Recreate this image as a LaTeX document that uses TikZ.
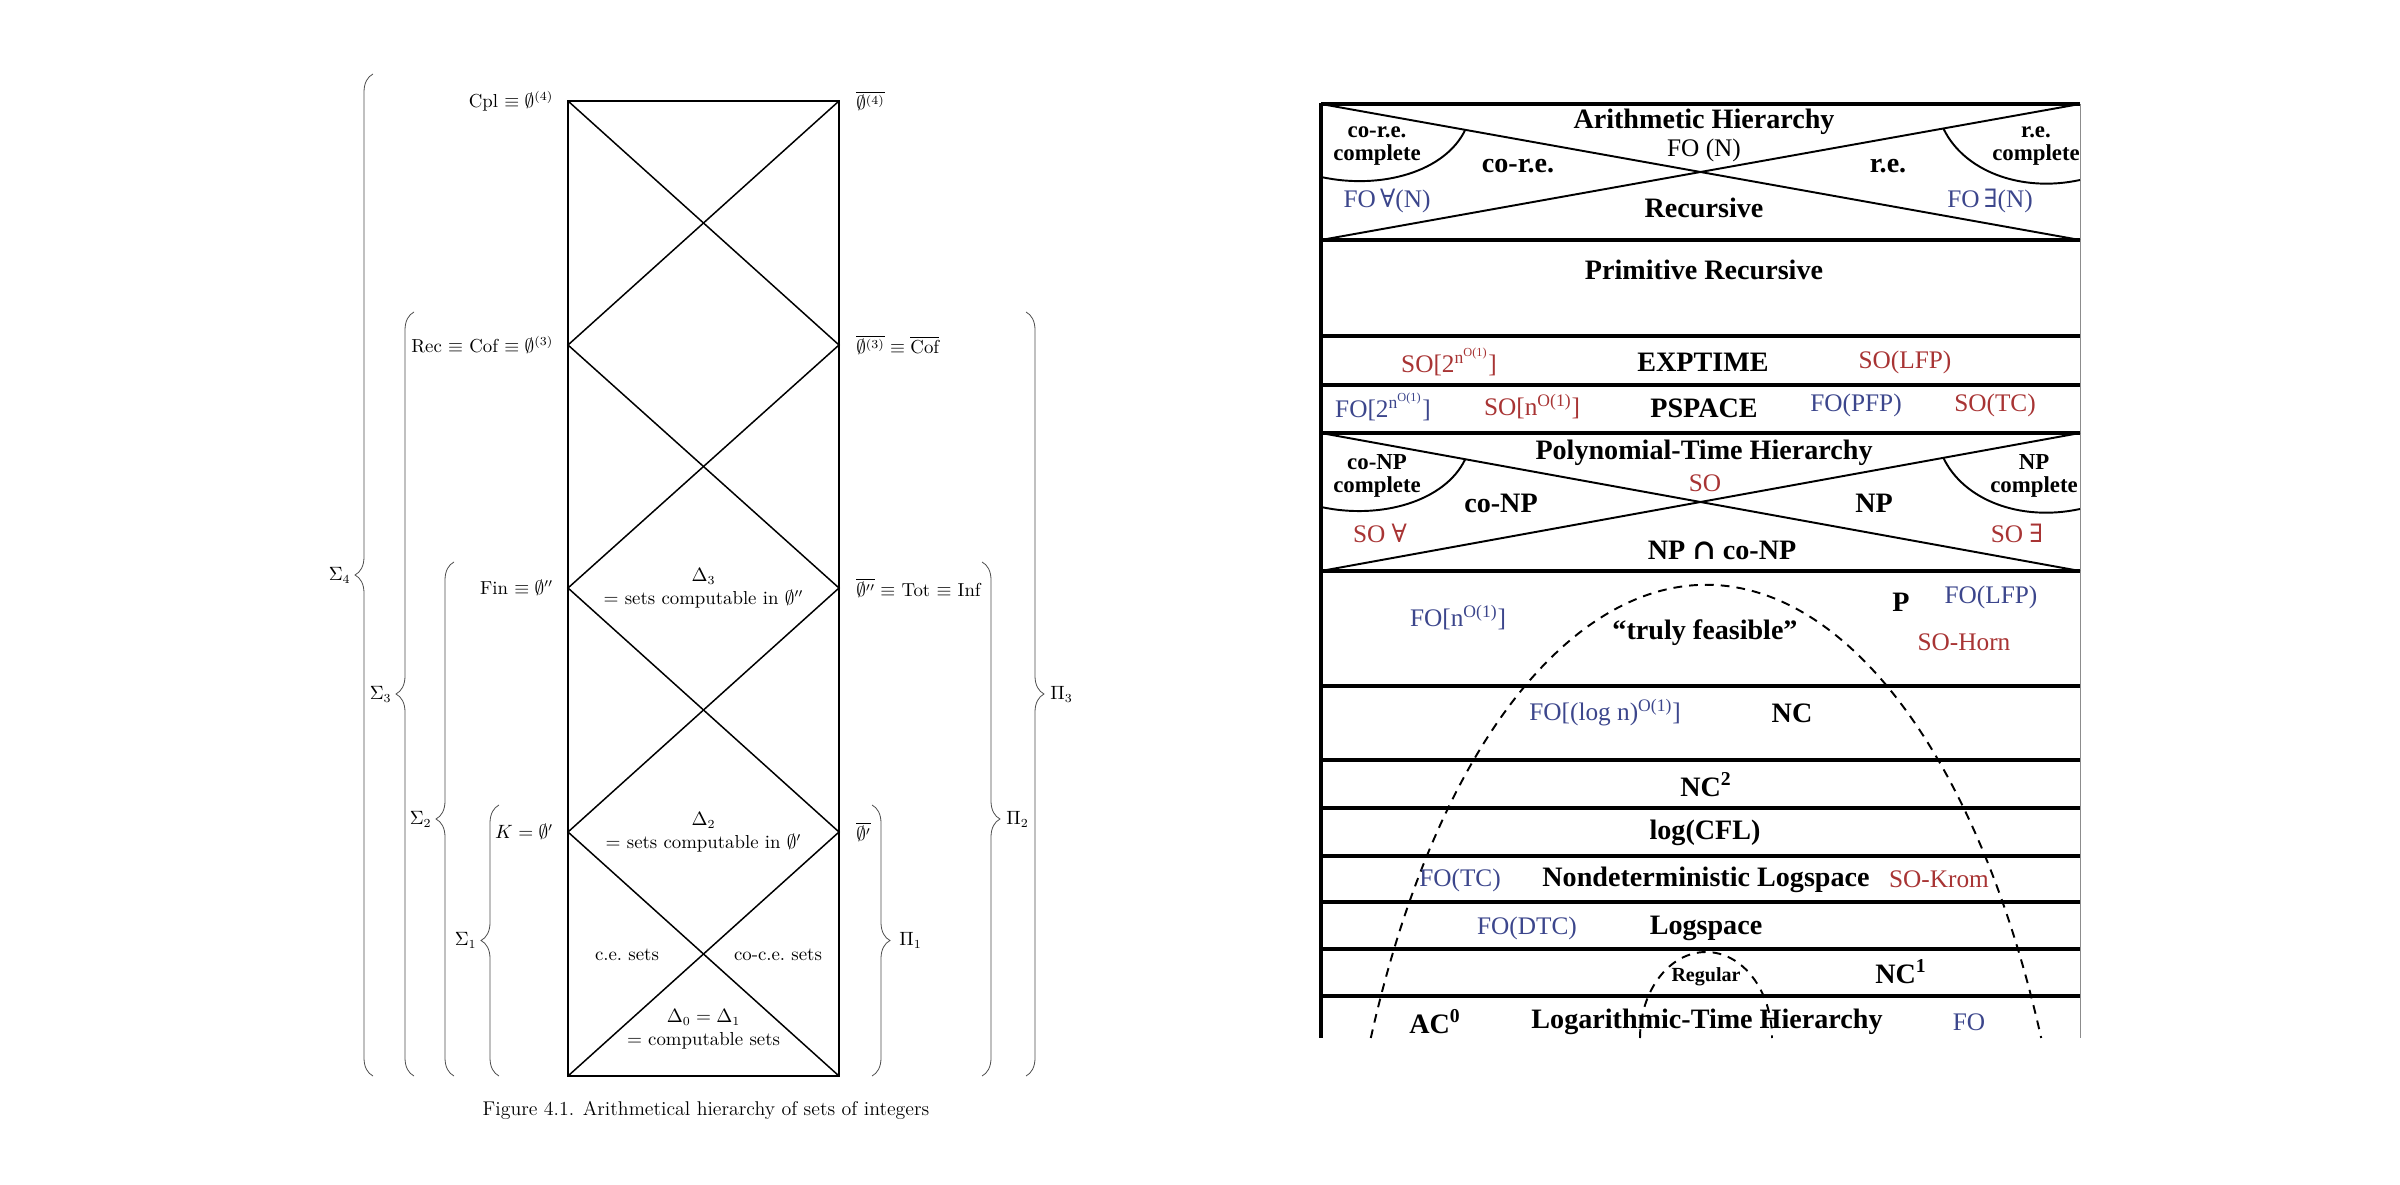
\documentclass[tikz,border=0pt]{standalone}
\usepackage{amsmath, amssymb}
\usepackage{fontspec}
\usepackage{xcolor}
\usepackage{tikz}
\usetikzlibrary{positioning, calc, decorations.pathreplacing}

\newfontfamily\timesfont{Liberation Serif}
\newfontfamily\quantfont{DejaVu Serif}
\definecolor{foblue}{RGB}{60,70,140}
\definecolor{sored}{RGB}{168,52,52}

\begin{document}
\begin{tikzpicture}[
    x=0.02cm,
    y=-0.02cm,
    lab/.style={
        inner sep=0pt,
        font=\fontsize{10.7}{13}\selectfont
    },
    cell/.style={
        inner sep=0pt,
        align=center,
        font=\fontsize{10.7}{13}\selectfont
    },
    lbrace/.style={
        decorate,
        decoration={brace, amplitude=0.36cm},
        draw=black!70,
        line width=0.45pt
    },
    zig/.style={line width=0.85pt},
    tname/.style={
        inner sep=0pt,
        align=center,
        font=\timesfont\bfseries\fontsize{16}{18}\selectfont
    },
    tsmall/.style={
        inner sep=0pt,
        align=center,
        font=\timesfont\bfseries\fontsize{13}{13}\selectfont
    },
    logic/.style={
        inner sep=0pt,
        font=\timesfont\fontsize{14.4}{16}\selectfont
    },
    fo/.style={logic, text=foblue},
    so/.style={logic, text=sored},
    rule/.style={line width=1.8pt},
    cross/.style={line width=1.1pt},
    feas/.style={line width=1.1pt, dash pattern=on 5pt off 4pt}
]
\useasboundingbox (0,0) rectangle (2400,1185);

% ============================================================
%  left: arithmetical hierarchy
% ============================================================

% --- corners of the diamonds ---
\coordinate (l0) at (568,101);
\coordinate (r0) at (839,101);
\coordinate (l1) at (568,345);
\coordinate (r1) at (839,345);
\coordinate (l2) at (568,588);
\coordinate (r2) at (839,588);
\coordinate (l3) at (568,832);
\coordinate (r3) at (839,832);
\coordinate (l4) at (568,1076);
\coordinate (r4) at (839,1076);

\draw[zig] (l0) rectangle (r4);
\draw[zig] (l0) -- (r1) -- (l2) -- (r3) -- (l4);
\draw[zig] (r0) -- (l1) -- (r2) -- (l3) -- (r4);

% --- left column ---
\node[lab, left=0.29cm of l0] (cpl) {Cpl $\equiv \emptyset^{(4)}$};
\node[lab, left=0.29cm of l1] (rec) {Rec $\equiv$ Cof $\equiv \emptyset^{(3)}$};
\node[lab, left=0.29cm of l2] (fin) {Fin $\equiv \emptyset''$};
\node[lab, left=0.29cm of l3] (kset) {$K = \emptyset'$};

% --- right column ---
\node[lab, right=0.34cm of r0] (jump4) {$\overline{\emptyset^{(4)}}$};
\node[lab, right=0.34cm of r1] (jump3) {$\overline{\emptyset^{(3)}} \equiv \overline{\mathrm{Cof}}$};
\node[lab, right=0.34cm of r2] (tot) {$\overline{\emptyset''} \equiv$ Tot $\equiv$ Inf};
\node[lab, right=0.34cm of r3] (jump1) {$\overline{\emptyset'}$};

% --- inside the diamonds ---
\node[cell] (delta3) at (703.5,588) {$\Delta_3$\\$=$ sets computable in $\emptyset''$};
\node[cell] (delta2) at (703.5,832) {$\Delta_2$\\$=$ sets computable in $\emptyset'$};
\node[cell] (ce)     at (627,955) {c.e.\ sets};
\node[cell] (coce)   at (778,955) {co-c.e.\ sets};
\node[cell] (delta0) at (703.5,1029) {$\Delta_0 = \Delta_1$\\$=$ computable sets};

% --- braces ---
\draw[lbrace] (373,1076) -- (373,74)  node[midway, left=0.44cm, lab] (sig4) {$\Sigma_4$};
\draw[lbrace] (414,1076) -- (414,312) node[midway, left=0.44cm, lab] (sig3) {$\Sigma_3$};
\draw[lbrace] (454,1076) -- (454,562) node[midway, left=0.44cm, lab] (sig2) {$\Sigma_2$};
\draw[lbrace] (499,1076) -- (499,805) node[midway, left=0.44cm, lab] (sig1) {$\Sigma_1$};
\draw[lbrace] (872,805) -- (872,1076)  node[midway, right=0.54cm, lab] (pi1) {$\Pi_1$};
\draw[lbrace] (982,562) -- (982,1076)  node[midway, right=0.48cm, lab] (pi2) {$\Pi_2$};
\draw[lbrace] (1026,312) -- (1026,1076) node[midway, right=0.48cm, lab] (pi3) {$\Pi_3$};

\node[lab, font=\fontsize{11.3}{13}\selectfont] (caption) at (706,1110) {Figure 4.1. Arithmetical hierarchy of sets of integers};

% ============================================================
%  right: the descriptive complexity world
% ============================================================

% --- frame and rows ---
\draw[line width=2pt] (1321,103) -- (1321,1038);
\draw[line width=0.5pt, draw=black!45] (2080,104) -- (2080,1038);
\draw[rule] (1321,104) -- (2080,104);
\draw[rule] (1321,240) -- (2080,240);
\draw[rule] (1321,336) -- (2080,336);
\draw[rule] (1321,385) -- (2080,385);
\draw[rule] (1321,433) -- (2080,433);
\draw[rule] (1321,571) -- (2080,571);
\draw[rule] (1321,686) -- (2080,686);
\draw[rule] (1321,760) -- (2080,760);
\draw[rule] (1321,808) -- (2080,808);
\draw[rule] (1321,856) -- (2080,856);
\draw[rule] (1321,902) -- (2080,902);
\draw[rule] (1321,949) -- (2080,949);
\draw[rule] (1321,996) -- (2080,996);

% --- arithmetic hierarchy cross ---
\coordinate (a-tl) at (1321,104);
\coordinate (a-tr) at (2080,104);
\coordinate (a-bl) at (1321,240);
\coordinate (a-br) at (2080,240);
\draw[cross] (a-tl) -- (a-br);
\draw[cross] (a-bl) -- (a-tr);
\draw[cross] ($(a-tl)!0.19!(a-br)$) .. controls +(-20,42) and +(60,13) .. (1321,177);
\draw[cross] ($(a-tr)!0.18!(a-bl)$) .. controls +(20,42) and +(-60,13) .. (2080,180);

% --- polynomial-time hierarchy cross ---
\coordinate (p-tl) at (1321,433);
\coordinate (p-tr) at (2080,433);
\coordinate (p-bl) at (1321,571);
\coordinate (p-br) at (2080,571);
\draw[cross] (p-tl) -- (p-br);
\draw[cross] (p-bl) -- (p-tr);
\draw[cross] ($(p-tl)!0.19!(p-br)$) .. controls +(-20,42) and +(60,13) .. (1321,507);
\draw[cross] ($(p-tr)!0.18!(p-bl)$) .. controls +(20,42) and +(-60,13) .. (2080,509);

% --- dashed arcs ---
\draw[feas] (1370.8,1038) arc[start angle=-154.3, end angle=-25.7, x radius=372, y radius=800];
\draw[feas] (1640,1038) arc[start angle=-180, end angle=0, x radius=66, y radius=86];

% --- arithmetic hierarchy ---
\node[tname] (arith)     at (1704,122) {Arithmetic Hierarchy};
\node[logic] (fon)       at (1704,150) {FO (N)};
\node[tsmall] (corecomp) at (1377,146) {co-r.e.\\complete};
\node[tname] (core)      at (1518,166) {co-r.e.};
\node[tname] (re)        at (1888,166) {r.e.};
\node[tsmall] (recomp)   at (2036,146) {r.e.\\complete};
\node[fo] (foall)        at (1387,201) {FO\,{\quantfont ∀}(N)};
\node[fo] (foex)         at (1990,201) {FO\,{\quantfont ∃}(N)};
\node[tname] (recursive) at (1704,208) {Recursive};

% --- primitive recursive ---
\node[tname] (primrec) at (1704,270) {Primitive Recursive};

% --- EXPTIME ---
\node[so] (soexp)      at (1449,362) {SO[2\textsuperscript{n\textsuperscript{O(1)}}]};
\node[tname] (exptime) at (1703,362) {EXPTIME};
\node[so] (solfp)      at (1905,362) {SO(LFP)};

% --- PSPACE ---
\node[fo] (foexp)     at (1383,407) {FO[2\textsuperscript{n\textsuperscript{O(1)}}]};
\node[so] (sopoly)    at (1532,407) {SO[n\textsuperscript{O(1)}]};
\node[tname] (pspace) at (1704,408) {PSPACE};
\node[fo] (fopfp)     at (1856,405) {FO(PFP)};
\node[so] (sotc)      at (1995,405) {SO(TC)};

% --- polynomial-time hierarchy ---
\node[tname] (ph)        at (1704,453) {Polynomial-Time Hierarchy};
\node[so] (sosec)        at (1705,483) {SO};
\node[tsmall] (conpcomp) at (1377,476) {co-NP\\complete};
\node[tname] (conp)      at (1501,503) {co-NP};
\node[tname] (np)        at (1874,503) {NP};
\node[tsmall] (npcomp)   at (2034,476) {NP\\complete};
\node[so] (soall)        at (1380,533) {SO {\quantfont ∀}};
\node[so] (soex)         at (2017,533) {SO {\quantfont ∃}};
\node[tname] (npconp)    at (1722,550) {NP {\quantfont ∩} co-NP};

% --- P ---
\node[fo] (fopoly)      at (1458,618) {FO[n\textsuperscript{O(1)}]};
\node[tname] (feasible) at (1705,633) {“truly feasible”};
\node[tname] (ptime)    at (1901,602) {P};
\node[fo] (folfp)       at (1991,597) {FO(LFP)};
\node[so] (sohorn)      at (1964,642) {SO-Horn};

% --- NC ---
\node[fo] (fopolylog) at (1605,713) {FO[(log n)\textsuperscript{O(1)}]};
\node[tname] (nc)     at (1792,713) {NC};

% --- NC^2, log(CFL) ---
\node[tname] (nctwo)  at (1706,785) {NC\textsuperscript{2}};
\node[tname] (logcfl) at (1705,833) {log(CFL)};

% --- logspace ---
\node[fo] (fotc)        at (1460,880) {FO(TC)};
\node[tname] (nl)       at (1706,880) {Nondeterministic Logspace};
\node[so] (sokrom)      at (1939,879) {SO-Krom};
\node[fo] (fodtc)       at (1527,928) {FO(DTC)};
\node[tname] (logspace) at (1706,928) {Logspace};

% --- NC^1, regular ---
\node[tsmall, font=\timesfont\bfseries\fontsize{11.4}{12}\selectfont] (regular) at (1706,977) {Regular};
\node[tname] (ncone) at (1901,972) {NC\textsuperscript{1}};

% --- logarithmic-time hierarchy ---
\node[tname] (aczero) at (1435,1022) {AC\textsuperscript{0}};
\node[tname] (logh)   at (1707,1022) {Logarithmic-Time Hierarchy};
\node[fo] (foplain)   at (1969,1022) {FO};

\end{tikzpicture}
\end{document}
